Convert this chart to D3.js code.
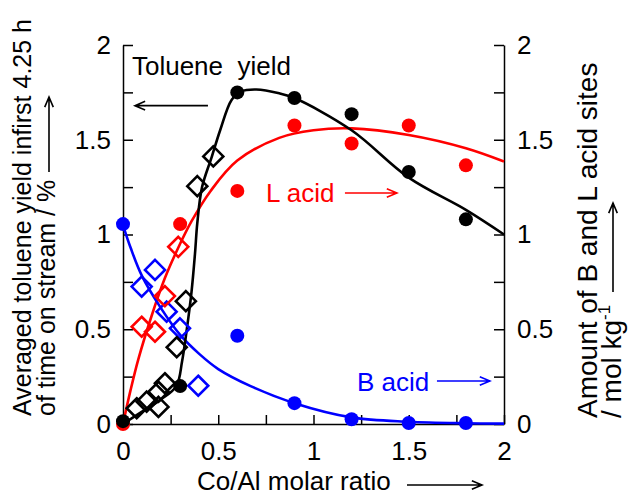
<!DOCTYPE html>
<html>
<head>
<meta charset="utf-8">
<script src="https://cdn.jsdelivr.net/npm/d3@7"></script>
<style>
  body { margin: 0; background: #fff; }
  text { font-family: Arial, "Liberation Sans", sans-serif; }
</style>
</head>
<body>
<div id="chart"></div>
<script>
// filled circles: toluene yield (left axis), L and B acid sites (right axis)
var tolX = [0, 0.3, 0.6, 0.9, 1.2, 1.5, 1.8];
var tolY = [0.015, 0.2, 1.75, 1.72, 1.635, 1.33, 1.08];
var lX = [0, 0.3, 0.6, 0.9, 1.2, 1.5, 1.8];
var lY = [0, 1.055, 1.23, 1.575, 1.48, 1.575, 1.365];
var bX = [0, 0.6, 0.9, 1.2, 1.5, 1.8];
var bY = [1.055, 0.466, 0.11, 0.025, 0.005, 0.005];

// open diamonds
var tolDiaX = [0.072, 0.124, 0.186, 0.186, 0.22, 0.282, 0.33, 0.39, 0.474];
var tolDiaY = [0.083, 0.118, 0.09, 0.17, 0.215, 0.405, 0.648, 1.255, 1.412];
var lDiaX = [0.098, 0.168, 0.22, 0.29];
var lDiaY = [0.513, 0.487, 0.675, 0.935];
var bDiaX = [0.098, 0.168, 0.229, 0.299, 0.395];
var bDiaY = [0.725, 0.813, 0.593, 0.505, 0.202];

// fitted curves
var tolFitX = [0, 0.1, 0.2, 0.28, 0.31, 0.335, 0.36, 0.378, 0.39, 0.415, 0.466, 0.51, 0.57, 0.62, 0.7, 0.82, 0.9, 1.2, 1.5, 1.8, 2.0];
var tolFitY = [0, 0.065, 0.13, 0.2, 0.33, 0.5, 0.7, 0.9, 1.06, 1.25, 1.41, 1.55, 1.71, 1.755, 1.765, 1.745, 1.72, 1.55, 1.3, 1.13, 1.0];
var lFitX = [0, 0.04, 0.08, 0.15, 0.22, 0.29, 0.36, 0.46, 0.6, 0.82, 1.0, 1.2, 1.5, 1.8, 2.0];
var lFitY = [0, 0.18, 0.34, 0.57, 0.77, 0.93, 1.07, 1.23, 1.39, 1.51, 1.55, 1.56, 1.525, 1.455, 1.385];
var bFitX = [0, 0.04, 0.1, 0.2, 0.3, 0.4, 0.5, 0.67, 0.9, 1.2, 1.5, 1.8, 2.0];
var bFitY = [1.05, 0.93, 0.78, 0.61, 0.47, 0.37, 0.29, 0.2, 0.11, 0.035, 0.012, 0.004, 0.002];

var ticks = [0, 0.25, 0.5, 0.75, 1, 1.25, 1.5, 1.75, 2];

var width = 629, height = 495;
var mLeft = 123, mRight = 504, mTop = 45, mBottom = 424;

var svg = d3.select("#chart").append("svg")
  .attr("width", width)
  .attr("height", height);

var x = d3.scaleLinear().domain([0, 2]).range([mLeft, mRight]);
var y = d3.scaleLinear().domain([0, 2]).range([mBottom, mTop]);
var y2 = d3.scaleLinear().domain([0, 2]).range([mBottom, mTop]);

var fmt = function (d) { return (d * 2) % 1 === 0 ? d3.format("~g")(d) : ""; };

// axes, ticks pointing inward, no top frame
var gx = svg.append("g")
  .attr("transform", "translate(0," + mBottom + ")")
  .call(d3.axisBottom(x).tickValues(ticks).tickFormat(fmt).tickSizeInner(-9).tickSizeOuter(0).tickPadding(18));
var gy = svg.append("g")
  .attr("transform", "translate(" + mLeft + ",0)")
  .call(d3.axisLeft(y).tickValues(ticks).tickFormat(fmt).tickSizeInner(-10).tickSizeOuter(0).tickPadding(12));
var gy2 = svg.append("g")
  .attr("transform", "translate(" + mRight + ",0)")
  .call(d3.axisRight(y2).tickValues(ticks).tickFormat(fmt).tickSizeInner(-10).tickSizeOuter(0).tickPadding(13));

[gx, gy, gy2].forEach(function (g) {
  g.selectAll("path, line").attr("stroke", "#000").attr("stroke-width", 1.5);
  g.selectAll("text").attr("font-size", 26).attr("fill", "#000")
    .style("font-family", "Arial, 'Liberation Sans', sans-serif");
});

// fitted curves
var line = d3.line().curve(d3.curveCatmullRom.alpha(0.5));
function fit(xs, ys, scaleY, color) {
  var pts = xs.map(function (d, i) { return [x(d), scaleY(ys[i])]; });
  svg.append("path")
    .attr("d", line(pts))
    .attr("fill", "none")
    .attr("stroke", color)
    .attr("stroke-width", 2.6);
}
fit(lFitX, lFitY, y2, "#ff0000");
fit(bFitX, bFitY, y2, "#0000ff");
fit(tolFitX, tolFitY, y, "#000000");

// open diamonds
function diamonds(xs, ys, scaleY, color) {
  var h = 10;
  svg.selectAll(null)
    .data(xs.map(function (d, i) { return [d, ys[i]]; }))
    .enter()
    .append("path")
    .attr("d", "M0," + (-h) + "L" + h + ",0L0," + h + "L" + (-h) + ",0Z")
    .attr("transform", function (d) { return "translate(" + x(d[0]) + "," + scaleY(d[1]) + ")"; })
    .attr("fill", "none")
    .attr("stroke", color)
    .attr("stroke-width", 2.6);
}
diamonds(bDiaX, bDiaY, y2, "#0000ff");
diamonds(lDiaX, lDiaY, y2, "#ff0000");
diamonds(tolDiaX, tolDiaY, y, "#000000");

// filled circles
function dots(xs, ys, scaleY, color) {
  svg.selectAll(null)
    .data(xs.map(function (d, i) { return [d, ys[i]]; }))
    .enter()
    .append("circle")
    .attr("cx", function (d) { return x(d[0]); })
    .attr("cy", function (d) { return scaleY(d[1]); })
    .attr("r", 7)
    .attr("fill", color);
}
dots(bX, bY, y2, "#0000ff");
dots(lX, lY, y2, "#ff0000");
dots(tolX, tolY, y, "#000000");

// open-headed arrow
function arrow(x1, y1, x2, y2_, color) {
  var a = Math.atan2(y2_ - y1, x2 - x1), len = 11, w = 0.4;
  var p1 = [x2 - len * Math.cos(a - w), y2_ - len * Math.sin(a - w)];
  var p2 = [x2 - len * Math.cos(a + w), y2_ - len * Math.sin(a + w)];
  svg.append("path")
    .attr("d", "M" + x1 + "," + y1 + "L" + x2 + "," + y2_ +
      "M" + p1 + "L" + x2 + "," + y2_ + "L" + p2)
    .attr("fill", "none")
    .attr("stroke", color)
    .attr("stroke-width", 1.6);
}

// in-plot labels
svg.append("text").attr("x", x(0.047)).attr("y", y(1.842))
  .attr("font-size", 26).style("white-space", "pre").text("Toluene  yield");
arrow(x(0.446), y(1.68), x(0.063), y(1.68), "#000");

svg.append("text").attr("x", x(0.751)).attr("y", y(1.171))
  .attr("font-size", 26).attr("fill", "#ff0000").text("L acid");
arrow(x(1.165), y(1.219), x(1.438), y(1.219), "#ff0000");

svg.append("text").attr("x", x(1.228)).attr("y", y(0.174))
  .attr("font-size", 26).attr("fill", "#0000ff").text("B acid");
arrow(x(1.648), y(0.227), x(1.926), y(0.227), "#0000ff");

// axis titles
svg.append("text").attr("x", 197).attr("y", 490)
  .attr("font-size", 26).text("Co/Al molar ratio");
arrow(407, 485, 482, 485, "#000");

svg.append("text").attr("transform", "translate(31,416) rotate(-90)")
  .attr("font-size", 25).text("Averaged toluene yield infirst 4.25 h");
svg.append("text").attr("transform", "translate(55,416) rotate(-90)")
  .attr("font-size", 25).style("white-space", "pre").text("of time on stream / %");
arrow(49, 172, 49, 97, "#000");

svg.append("text").attr("transform", "translate(597,418) rotate(-90)")
  .attr("font-size", 28).text("Amount of B and L acid sites");
var t2 = svg.append("text").attr("transform", "translate(621,418) rotate(-90)")
  .attr("font-size", 28);
t2.append("tspan").text("/ mol kg");
t2.append("tspan").attr("dy", -11).attr("font-size", 17).text("-1");
arrow(613, 292, 613, 203, "#000");
</script>
</body>
</html>
